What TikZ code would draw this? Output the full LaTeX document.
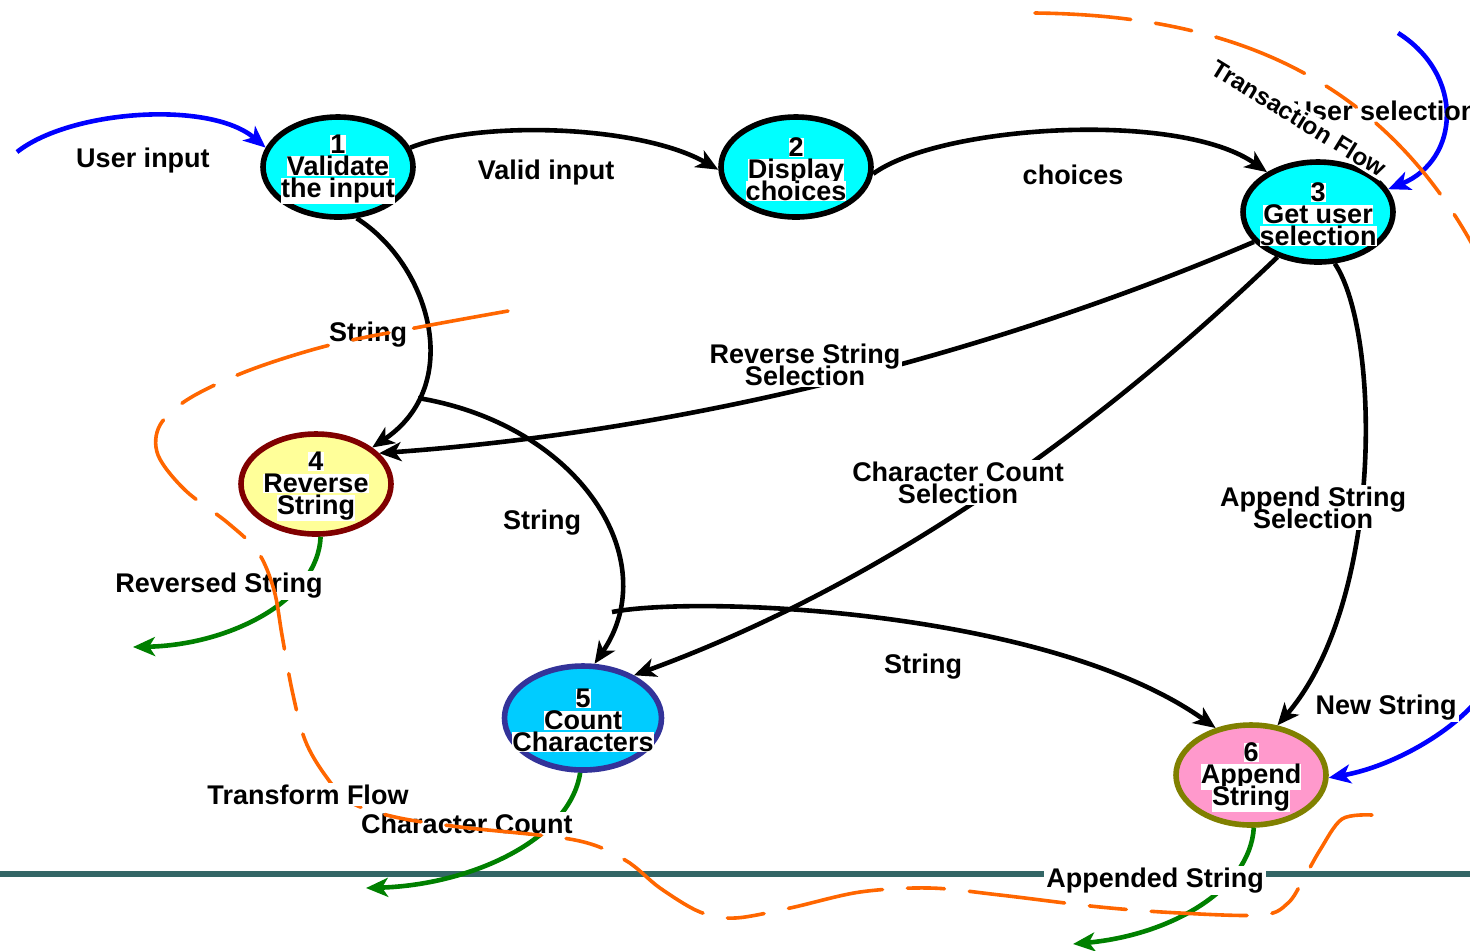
\documentclass[tikz,border=0pt]{standalone}
\usepackage{fontspec}
\setmainfont{Liberation Sans}
\usetikzlibrary{shapes.geometric,arrows.meta}

\definecolor{stcyan}{HTML}{00FFFF}
\definecolor{revfill}{HTML}{FFFF99}
\definecolor{revdraw}{HTML}{800000}
\definecolor{cntfill}{HTML}{00CCFF}
\definecolor{cntdraw}{HTML}{333399}
\definecolor{appfill}{HTML}{FF99CC}
\definecolor{appdraw}{HTML}{808000}
\definecolor{flowor}{HTML}{FF6600}
\definecolor{rulecol}{HTML}{336666}
\definecolor{inblue}{HTML}{0000FF}
\definecolor{outgreen}{HTML}{008000}

\setlength{\fboxsep}{0pt}
\newcommand{\wl}[1]{\colorbox{white}{#1}}
\newcommand{\labfont}{\fontsize{13.5}{11}\selectfont\bfseries}
\newcommand{\regfont}{\fontsize{12.2}{11}\selectfont\bfseries}

\begin{document}
\lineskiplimit=-30pt
\begin{tikzpicture}[x=0.5pt,y=-0.5pt,
  txt/.style={font=\labfont, align=center, inner sep=0pt, yshift=-1.2pt},
  state/.style={ellipse, line width=2.8pt, minimum width=75pt, minimum height=50pt, inner sep=0pt},
  lbl/.style={txt, fill=white, inner sep=1pt},
  tip/.style={-{Stealth[length=11pt,width=9.5pt,inset=3pt]}},
  flow/.style={tip, line width=2.3pt, black},
  inflow/.style={tip, line width=2.3pt, inblue},
  outflow/.style={tip, line width=2.3pt, outgreen},
  region/.style={line width=1.8pt, flowor, line cap=round,
                 dash pattern=on 48pt off 12.5pt on 18.5pt off 12.5pt},
  boundary/.style={line width=3pt, rulecol}
]
\useasboundingbox (0,0) rectangle (1470,950);
\clip (0,0) rectangle (1470,950);

% system boundary
\coordinate (h0) at (0,874);
\coordinate (h1) at (1470,874);
\draw[boundary] (h0) -- (h1);

% processes
\node[state, draw=black, fill=stcyan] (n1) at (338,167) {};
\node[state, draw=black, fill=stcyan] (n2) at (796,167) {};
\node[state, draw=black, fill=stcyan] (n3) at (1318,212) {};
\node[state, draw=revdraw, fill=revfill] (n4) at (316,484) {};
\node[state, draw=cntdraw, fill=cntfill, minimum width=78.5pt, minimum height=52pt] (n5) at (583,718) {};
\node[state, draw=appdraw, fill=appfill] (n6) at (1251,775) {};

% free ends
\coordinate (s1) at (418,398);
\coordinate (s2) at (612,612);
\coordinate (u0) at (17,152);
\coordinate (u1) at (1398,33);
\coordinate (u2) at (1472,706);
\coordinate (g1) at (133,647);
\coordinate (g2) at (366,888);
\coordinate (g3) at (1073,944);

% data flows
\draw[flow] (n1.15) .. controls (480,120) and (640,125) .. (n2.182);
\draw[flow] (n2.-5) .. controls (940,125) and (1180,110) .. (n3.142);
\draw[flow] (n1.-70) .. controls (430,265) and (465,385) .. (n4.33);
\draw[flow] (n3.205) .. controls (1000,350) and (700,430) .. (n4.26);
\draw[flow] (s1) .. controls (580,425) and (665,560) .. (n5.78);
\draw[flow] (n3.-132) .. controls (1180,350) and (950,560) .. (n5.40);
\draw[flow] (s2) .. controls (700,595) and (1050,610) .. (n6.127);
\draw[flow] (n3.-72) .. controls (1380,330) and (1385,600) .. (n6.62);

% external inputs
\draw[inflow] (u0) .. controls (70,110) and (210,100) .. (n1.165);
\draw[inflow] (u1) .. controls (1465,75) and (1460,160) .. (n3.18);
\draw[inflow] (u2) .. controls (1440,740) and (1385,768) .. (n6.-2);

% outputs
\draw[outflow] (n4.-85) .. controls (318,600) and (230,645) .. (g1);
\draw[outflow] (n5.-93) .. controls (570,840) and (470,885) .. (g2);
\draw[outflow] (n6.-87) .. controls (1250,890) and (1170,935) .. (g3);

% process texts
\node[txt] (t1) at (n1) {\wl{1}\\ \wl{Validate}\\ \wl{the input}};
\node[txt] (t2) at (n2) {\wl{2}\\ \wl{Display}\\ \wl{choices}};
\node[txt] (t3) at (n3) {\wl{3}\\ \wl{Get user}\\ \wl{selection}};
\node[txt] (t4) at (n4) {\wl{4}\\ \wl{Reverse}\\ \wl{String}};
\node[txt] (t5) at (n5) {\wl{5}\\ \wl{Count}\\ \wl{Characters}};
\node[txt] (t6) at (n6) {\wl{6}\\ \wl{Append}\\ \wl{String}};

% flow labels
\node[lbl] (l1) at (546,170) {Valid input};
\node[lbl] (l2) at (1073,172) {choices};
\node[lbl] (l3) at (368,332) {String};
\node[lbl] (l4) at (805,362) {Reverse String\\ Selection};
\node[lbl] (l5) at (542,520) {String};
\node[lbl] (l6) at (958,480) {Character Count\\ Selection};
\node[lbl] (l7) at (1313,505) {Append String\\ Selection};
\node[lbl] (l8) at (923,664) {String};
\node[lbl] (l9) at (1386,705) {New String};
\node[lbl] (l10) at (143,158) {User input};
\node[txt] (l11) at (1385,108) {User selection};
\node[lbl] (l12) at (219,583) {Reversed String};
\node[lbl] (l13) at (467,821) {Character Count};
\node[lbl] (l14) at (1155,878) {Appended String};

% flow regions
\draw[region] plot[smooth, tension=0.55] coordinates {
  (508,311) (420,327) (330,345) (250,370) (190,398) (160,425) (158,455)
  (185,490) (228,523) (258,552) (274,590) (282,635) (292,690) (305,740)
  (325,775) (350,802) (395,817) (460,827) (575,840) (625,860) (660,888)
  (700,912) (735,918) (790,908) (860,892) (930,888) (1000,895) (1100,907)
  (1180,913) (1262,915) (1288,903) (1303,880) (1320,850) (1342,819) (1372,815)};
\draw[region] (1035,13) .. controls (1220,15) and (1380,70) .. (1478,255);

\node[lbl] (r1) at (308,792) {Transform Flow};
\node[lbl, font=\regfont, rotate=-31.5] (r2) at (1299,116) {Transaction Flow};
\end{tikzpicture}
\end{document}
